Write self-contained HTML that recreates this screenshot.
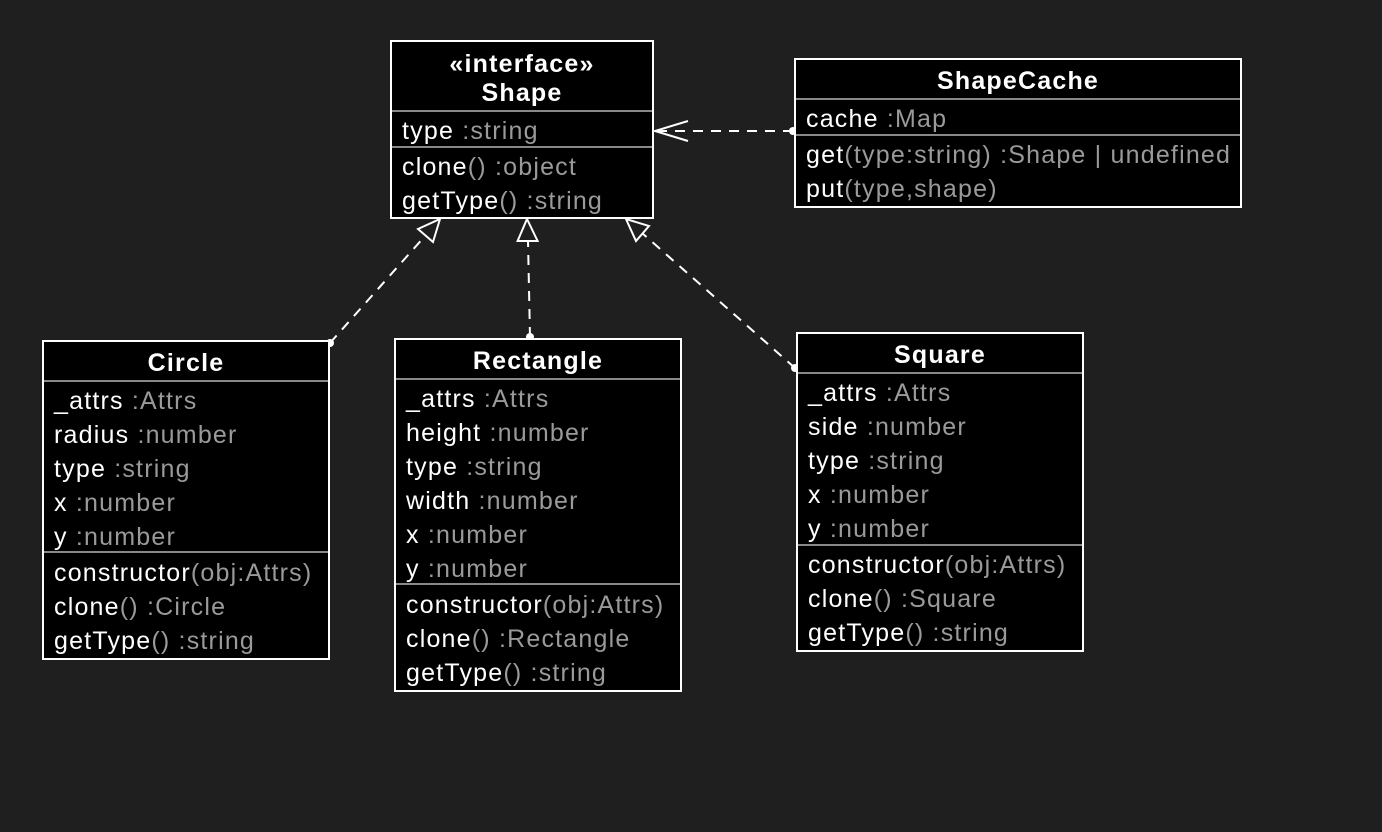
<!DOCTYPE html>
<html><head><meta charset="utf-8"><style>
html,body{margin:0;padding:0;background:#1f1f1f;}
svg{display:block;}
text{font-family:"Liberation Sans","DejaVu Sans",sans-serif;font-size:25px;letter-spacing:1.2px;fill:#fff;}
.b{font-weight:bold;}
.g{fill:#9a9a9a;}
</style></head><body>
<svg width="1382" height="832" viewBox="0 0 1382 832">
<rect width="1382" height="832" fill="#1f1f1f"/>
<g stroke="#fff" stroke-width="2" fill="none">
<line x1="793" y1="131" x2="656" y2="131" stroke-dasharray="10,8"/>
<polyline points="688,121 655,131 688,141"/>
<line x1="330" y1="343" x2="425" y2="236" stroke-dasharray="10,8"/>
<polygon points="440,219 433,242 418,229"/>
<line x1="530" y1="337" x2="528" y2="241" stroke-dasharray="10,8"/>
<polygon points="527,219 537.6,241 517.6,241"/>
<line x1="795" y1="368" x2="642" y2="233" stroke-dasharray="10,8"/>
<polygon points="626,219 649,226 636,241"/>
</g>
<g fill="#fff"><circle cx="793" cy="131" r="4"/><circle cx="330" cy="343" r="4"/><circle cx="530" cy="337" r="4"/><circle cx="795" cy="368" r="4"/></g>

<rect x="391" y="41" width="262" height="177" fill="#000" stroke="#fff" stroke-width="2"/>
<g stroke="#888" stroke-width="2"><line x1="392" y1="111" x2="652" y2="111"/><line x1="392" y1="147" x2="652" y2="147"/></g>
<text class="b" x="522" y="72" text-anchor="middle">«interface»</text>
<text class="b" x="522" y="101" text-anchor="middle">Shape</text>
<text x="402" y="139">type <tspan class="g">:string</tspan></text>
<text x="402" y="175">clone<tspan class="g">() :object</tspan></text>
<text x="402" y="209">getType<tspan class="g">() :string</tspan></text>

<rect x="795" y="59" width="446" height="148" fill="#000" stroke="#fff" stroke-width="2"/>
<g stroke="#888" stroke-width="2"><line x1="796" y1="99" x2="1240" y2="99"/><line x1="796" y1="135" x2="1240" y2="135"/></g>
<text class="b" x="1018" y="89" text-anchor="middle">ShapeCache</text>
<text x="806" y="127">cache <tspan class="g">:Map</tspan></text>
<text x="806" y="163">get<tspan class="g">(type:string) :Shape | undefined</tspan></text>
<text x="806" y="197">put<tspan class="g">(type,shape)</tspan></text>

<rect x="43" y="341" width="286" height="318" fill="#000" stroke="#fff" stroke-width="2"/>
<g stroke="#888" stroke-width="2"><line x1="44" y1="381" x2="328" y2="381"/><line x1="44" y1="552" x2="328" y2="552"/></g>
<text class="b" x="186" y="371" text-anchor="middle">Circle</text>
<text x="54" y="409">_attrs <tspan class="g">:Attrs</tspan></text>
<text x="54" y="443">radius <tspan class="g">:number</tspan></text>
<text x="54" y="477">type <tspan class="g">:string</tspan></text>
<text x="54" y="511">x <tspan class="g">:number</tspan></text>
<text x="54" y="545">y <tspan class="g">:number</tspan></text>
<text x="54" y="581">constructor<tspan class="g">(obj:Attrs)</tspan></text>
<text x="54" y="615">clone<tspan class="g">() :Circle</tspan></text>
<text x="54" y="649">getType<tspan class="g">() :string</tspan></text>

<rect x="395" y="339" width="286" height="352" fill="#000" stroke="#fff" stroke-width="2"/>
<g stroke="#888" stroke-width="2"><line x1="396" y1="379" x2="680" y2="379"/><line x1="396" y1="584" x2="680" y2="584"/></g>
<text class="b" x="538" y="369" text-anchor="middle">Rectangle</text>
<text x="406" y="407">_attrs <tspan class="g">:Attrs</tspan></text>
<text x="406" y="441">height <tspan class="g">:number</tspan></text>
<text x="406" y="475">type <tspan class="g">:string</tspan></text>
<text x="406" y="509">width <tspan class="g">:number</tspan></text>
<text x="406" y="543">x <tspan class="g">:number</tspan></text>
<text x="406" y="577">y <tspan class="g">:number</tspan></text>
<text x="406" y="613">constructor<tspan class="g">(obj:Attrs)</tspan></text>
<text x="406" y="647">clone<tspan class="g">() :Rectangle</tspan></text>
<text x="406" y="681">getType<tspan class="g">() :string</tspan></text>

<rect x="797" y="333" width="286" height="318" fill="#000" stroke="#fff" stroke-width="2"/>
<g stroke="#888" stroke-width="2"><line x1="798" y1="373" x2="1082" y2="373"/><line x1="798" y1="545" x2="1082" y2="545"/></g>
<text class="b" x="940" y="363" text-anchor="middle">Square</text>
<text x="808" y="401">_attrs <tspan class="g">:Attrs</tspan></text>
<text x="808" y="435">side <tspan class="g">:number</tspan></text>
<text x="808" y="469">type <tspan class="g">:string</tspan></text>
<text x="808" y="503">x <tspan class="g">:number</tspan></text>
<text x="808" y="537">y <tspan class="g">:number</tspan></text>
<text x="808" y="573">constructor<tspan class="g">(obj:Attrs)</tspan></text>
<text x="808" y="607">clone<tspan class="g">() :Square</tspan></text>
<text x="808" y="641">getType<tspan class="g">() :string</tspan></text>
</svg>
</body></html>
